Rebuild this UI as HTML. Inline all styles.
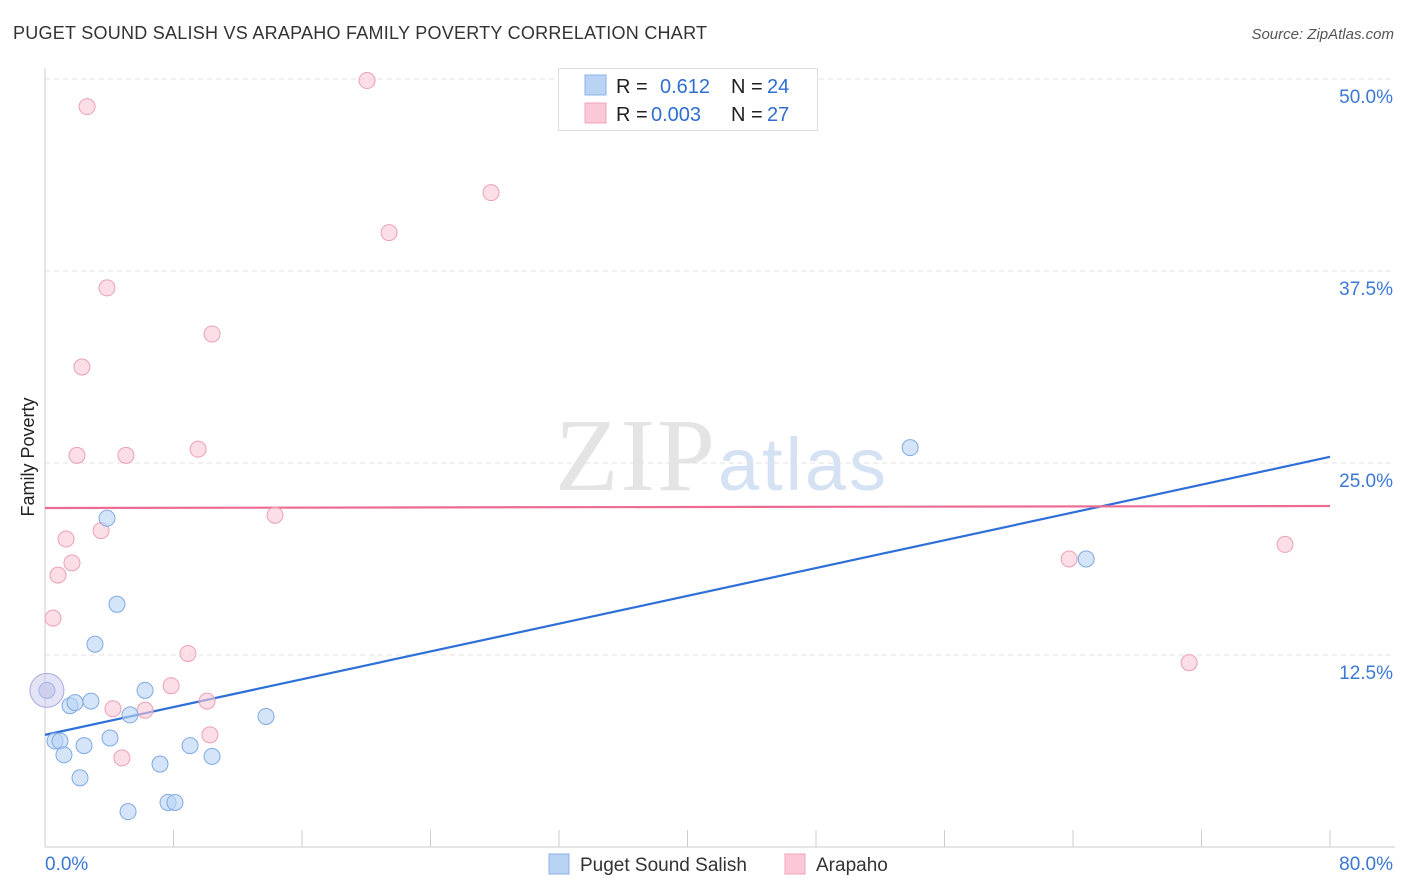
<!DOCTYPE html>
<html><head><meta charset="utf-8"><style>
body{margin:0;background:#fff;font-family:"Liberation Sans",sans-serif;}
svg{display:block}
</style></head><body>
<svg id="c" width="1406" height="892" xmlns="http://www.w3.org/2000/svg">
<text x="13" y="39" font-size="18" fill="#333" textLength="694">PUGET SOUND SALISH VS ARAPAHO FAMILY POVERTY CORRELATION CHART</text>
<text x="1394" y="39" font-size="15" fill="#555" font-style="italic" text-anchor="end">Source: ZipAtlas.com</text>
<text x="555" y="490" font-size="104" fill="#e4e4e4" textLength="160" font-family="Liberation Serif">ZIP</text>
<text x="718" y="490" font-size="74" fill="#d4e2f4" textLength="168">atlas</text>
<text transform="translate(34,457) rotate(-90)" font-size="18" fill="#222" text-anchor="middle">Family Poverty</text>
<g id="grid"></g><g id="ticks"></g><g id="lines"></g><g id="pts"></g>
<g>
<rect x="558.5" y="68.5" width="259" height="62" fill="#fff" stroke="#ddd"/>
<rect x="585" y="75" width="21" height="20" fill="#b9d3f5" stroke="#8db3e8"/>
<rect x="585" y="103" width="21" height="20" fill="#fac8d6" stroke="#f0a3b9"/>
<g font-size="20">
<text x="616" y="93" fill="#222">R =</text><text x="660" y="93" fill="#2f6fd0">0.612</text>
<text x="731" y="93" fill="#222">N =</text><text x="767" y="93" fill="#2f6fd0">24</text>
<text x="616" y="121" fill="#222">R =</text><text x="651" y="121" fill="#2f6fd0">0.003</text>
<text x="731" y="121" fill="#222">N =</text><text x="767" y="121" fill="#2f6fd0">27</text>
</g>
</g>
<g>
<rect x="549" y="854" width="20" height="20" fill="#b9d3f5" stroke="#8db3e8"/>
<text x="580" y="871" font-size="19" fill="#333">Puget Sound Salish</text>
<rect x="785" y="854" width="20" height="20" fill="#fac8d6" stroke="#f0a3b9"/>
<text x="816" y="871" font-size="19" fill="#333">Arapaho</text>
</g>
</svg>
<script>
const yTicks=[12.5,25,37.5,50];
const yTickLabels=["12.5%","25.0%","37.5%","50.0%"];
const xTickLabels=["0.0%","80.0%"];
const blueX=[0.12,0.62,0.93,1.18,1.56,1.87,2.18,2.43,2.86,3.11,3.86,4.05,4.48,5.17,5.29,6.23,7.16,7.66,8.09,9.03,10.4,13.76,53.86,64.82];
const blueY=[10.2,6.9,6.9,6.0,9.2,9.4,4.5,6.6,9.5,13.2,21.4,7.1,15.8,2.3,8.6,10.2,5.4,2.9,2.9,6.6,5.9,8.5,26.0,18.75];
const pinkX=[2.62,20.05,27.77,21.42,3.86,10.4,2.30,1.99,5.04,9.53,14.32,3.49,1.31,1.68,0.81,0.5,8.9,7.85,10.09,4.23,6.23,10.27,4.79,63.76,77.2,71.23,0.12];
const pinkY=[48.2,49.9,42.6,40.0,36.4,33.4,31.25,25.5,25.5,25.9,21.6,20.6,20.05,18.5,17.7,14.9,12.6,10.5,9.5,9.0,8.9,7.3,5.8,18.75,19.7,12.0,10.2];
const blueTrend=[7.3,25.4];
const pinkTrend=[22.07,22.2];
const X=v=>45+v*16.0625, Y=v=>847-v*15.36;
const NS="http://www.w3.org/2000/svg";
function mk(t,a,p){const e=document.createElementNS(NS,t);for(const k in a)e.setAttribute(k,a[k]);p.appendChild(e);return e;}
const g=document.getElementById('grid'),tk=document.getElementById('ticks'),ln=document.getElementById('lines'),pt=document.getElementById('pts');
yTicks.forEach((v,i)=>{
 const l=mk('line',{x1:45,x2:1395,y1:Y(v),y2:Y(v),stroke:'#e2e2e2','stroke-dasharray':'5,4'},g);
 
 
 const t=mk('text',{x:1393,y:Y(v)+24,'font-size':19,fill:'#3a78d4','text-anchor':'end'},tk);t.textContent=yTickLabels[i];
 
 
});
const ax=mk('line',{x1:45,x2:45,y1:68,y2:847,stroke:'#ccc'},tk);


const bx=mk('line',{x1:45,x2:1395,y1:847,y2:847,stroke:'#ccc'},tk);


for(let i=0;i<=10;i++){const t=mk('line',{x1:X(i*8),x2:X(i*8),y1:830,y2:847,stroke:'#ccc'},tk);
 
 }
[[0,45,'start'],[80,1393,'end']].forEach((d,i)=>{const t=mk('text',{x:d[1],y:870,'font-size':19,fill:'#3a78d4','text-anchor':d[2]},tk);t.textContent=xTickLabels[i];
 
 });
function dots(xs,ys,f,s,n){xs.forEach((x,i)=>{const c=mk('circle',{cx:X(x),cy:Y(ys[i]),r:8,fill:f,'fill-opacity':0.6,stroke:s,'stroke-width':1},pt);
 
 });}
dots(pinkX,pinkY,'#fac8d6','#eba0b6','arapaho-point');
dots(blueX,blueY,'#b9d3f5','#7fa9e3','puget-point');
const big=mk('circle',{cx:X(blueX[0]),cy:Y(blueY[0]),r:17,fill:'#c8c8ee','fill-opacity':0.5,stroke:'#a9a9dd'},pt);


const bl=mk('line',{x1:X(0),x2:X(80),y1:Y(blueTrend[0]),y2:Y(blueTrend[1]),stroke:'#2f70d8','stroke-width':2.2},ln);


const pl=mk('line',{x1:X(0),x2:X(80),y1:Y(pinkTrend[0]),y2:Y(pinkTrend[1]),stroke:'#ec6c92','stroke-width':2.2},ln);


</script>
</body></html>
